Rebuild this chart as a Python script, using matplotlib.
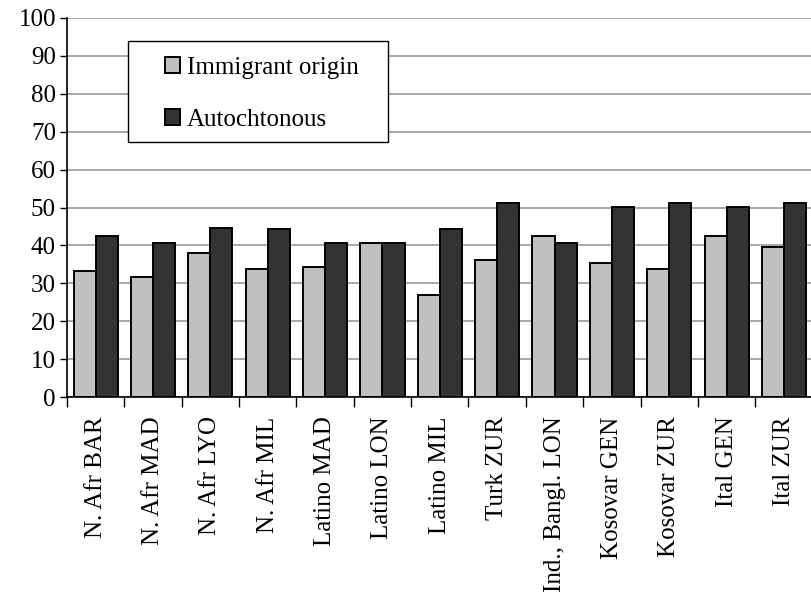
import numpy as np
import matplotlib.pyplot as plt
from matplotlib.patches import Rectangle

plt.rcParams['font.family'] = ['Liberation Serif', 'DejaVu Serif']

groups = ['N. Afr BAR', 'N. Afr MAD', 'N. Afr LYO', 'N. Afr MIL', 'Latino MAD',
          'Latino LON', 'Latino MIL', 'Turk ZUR', 'Ind., Bangl. LON', 'Kosovar GEN',
          'Kosovar ZUR', 'Ital GEN', 'Ital ZUR']
immigrant = [33.2, 31.6, 37.9, 33.7, 34.2, 40.6, 26.8, 36.2, 42.6, 35.3, 33.7, 42.6, 39.5]
autochtonous = [42.6, 40.6, 44.7, 44.2, 40.6, 40.6, 44.2, 51.1, 40.6, 50.1, 51.1, 50.1, 51.1]

fig = plt.figure(figsize=(8.11, 5.94), dpi=100)
ax = fig.add_axes([67/811, 1 - 397/594, 1 - 67/811 + 0.002, 379/594])

x = np.arange(len(groups))
w = 0.385
ax.bar(x - w/2, immigrant, w, color='#c0c0c0', edgecolor='black', linewidth=1.4,
       label='Immigrant origin', zorder=3)
ax.bar(x + w/2, autochtonous, w, color='#333333', edgecolor='black', linewidth=1.4,
       label='Autochtonous', zorder=3)

ax.set_xlim(-0.5, len(groups) - 0.5)
ax.set_ylim(0, 100)
ax.set_yticks(np.arange(0, 101, 10))
ax.yaxis.grid(True, color='#9a9a9a', linewidth=1.2, zorder=0)

ax.set_xticks(x)
ax.set_xticklabels(groups, rotation=90, fontsize=18)
ax.tick_params(axis='x', length=0, pad=14)
ax.set_xticks(np.arange(-0.5, len(groups), 1), minor=True)
ax.tick_params(axis='x', which='minor', length=7, width=1, direction='out')
ax.tick_params(axis='y', length=5, width=1, labelsize=18, pad=3)

for s in ['top', 'right']:
    ax.spines[s].set_visible(False)
ax.spines['left'].set_linewidth(1.2)
ax.spines['bottom'].set_linewidth(1.2)

# legend box drawn separately so the padding can be wider than tall
box = Rectangle((0.082, 0.673), 0.349, 0.2665, transform=ax.transAxes,
                facecolor='white', edgecolor='black', linewidth=1.0, zorder=4)
ax.add_patch(box)
leg = ax.legend(loc='upper left', bbox_to_anchor=(0.131, 0.897, 0, 0),
                fontsize=18, frameon=False,
                handlelength=0.6, handleheight=0.6, handletextpad=0.3,
                labelspacing=1.18, borderpad=0, borderaxespad=0)
leg.set_zorder(5)

fig.savefig('out.png', dpi=100)
